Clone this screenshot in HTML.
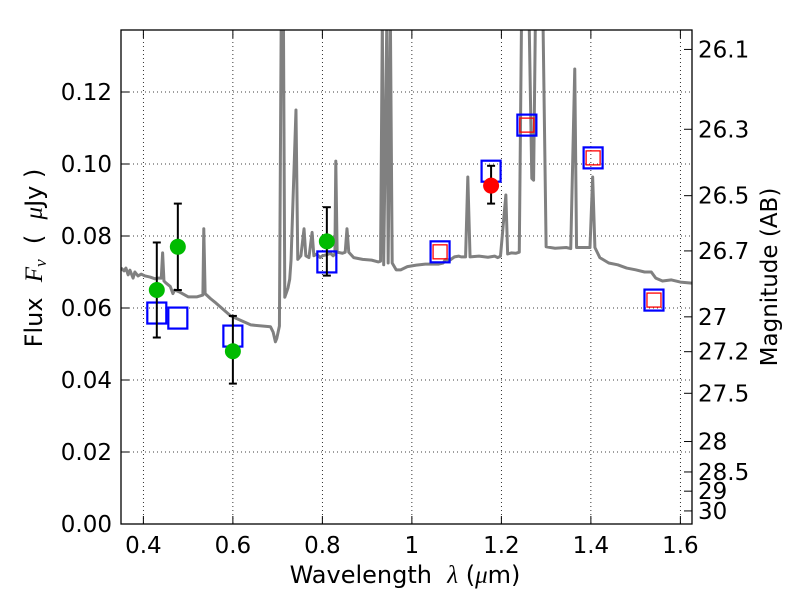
<!DOCTYPE html>
<html><head><meta charset="utf-8"><style>
body{margin:0;background:#fff}
svg{display:block;font-family:"DejaVu Sans","Liberation Sans",sans-serif}
</style></head><body>
<svg id="chart" width="800" height="600">
<defs><clipPath id="clip"><rect x="121" y="30" width="571" height="494"/></clipPath></defs>
<g id="grid"></g>
<g id="spec" clip-path="url(#clip)"></g>
<g id="marks"></g>
<rect x="121" y="30" width="571" height="494" fill="none" stroke="#000" stroke-width="1.3"/>
<g id="axes"></g>
<text x="405" y="583" font-size="24" text-anchor="middle">Wavelength&#160;&#160;<tspan font-style="italic" font-family="Liberation Serif" font-size="25">λ</tspan>&#160;(<tspan font-style="italic" font-family="Liberation Serif" font-size="25">μ</tspan>m)</text>
<text transform="translate(42,258) rotate(-90)" font-size="24" text-anchor="middle">Flux&#160;&#160;<tspan font-style="italic" font-family="Liberation Serif" font-size="25">F</tspan><tspan font-style="italic" font-family="Liberation Serif" font-size="17" dy="4">ν</tspan><tspan dy="-4">&#160;&#160;(&#160;&#160;</tspan><tspan font-style="italic" font-family="Liberation Serif" font-size="25">μ</tspan>Jy&#160;)</text>
<text transform="translate(777,277) rotate(-90)" font-size="23" text-anchor="middle">Magnitude (AB)</text>
</svg>
<script>
const xTicks=[0.4,0.6,0.8,1.0,1.2,1.4,1.6];
const xTickLabels=["0.4","0.6","0.8","1","1.2","1.4","1.6"];
const yTicks=[0,0.02,0.04,0.06,0.08,0.10,0.12];
const yTickLabels=["0.00","0.02","0.04","0.06","0.08","0.10","0.12"];
const magTicks=[26.1,26.3,26.5,26.7,27,27.2,27.5,28,28.5,29,30];
const specX=[
0.350,0.357,0.361,0.366,0.370,0.377,0.381,0.388,0.395,0.404,
0.415,0.426,0.432,0.440,0.443,0.446,0.450,0.460,0.466,0.470,
0.480,0.500,0.520,0.533,0.535,0.538,0.550,0.562,0.595,0.640,
0.684,0.690,0.695,0.698,0.704,0.708,0.713,0.716,0.720,0.723,
0.727,0.730,0.741,0.745,0.752,0.759,0.763,0.770,0.777,0.781,
0.787,0.795,0.800,0.810,0.818,0.824,0.828,0.830,0.833,0.845,
0.851,0.855,0.859,0.870,0.890,0.910,0.925,0.930,0.934,0.937,
0.944,0.947,0.952,0.956,0.965,0.975,0.990,1.010,1.030,1.060,
1.070,1.075,1.085,1.095,1.105,1.110,1.120,1.125,1.130,1.150,
1.170,1.185,1.192,1.198,1.210,1.214,1.222,1.232,1.240,1.245,
1.262,1.268,1.272,1.276,1.293,1.300,1.320,1.345,1.355,1.364,
1.368,1.398,1.404,1.409,1.420,1.440,1.460,1.480,1.500,1.520,
1.535,1.545,1.560,1.580,1.600,1.625];
const specY=[
0.0711,0.0703,0.0711,0.0692,0.0705,0.0683,0.0700,0.0689,0.0694,0.0689,
0.0686,0.0681,0.0683,0.0683,0.0753,0.0675,0.0670,0.0660,0.0640,0.0650,
0.0645,0.0631,0.0631,0.0636,0.0820,0.0640,0.0626,0.0614,0.0578,0.0553,
0.0548,0.0533,0.0506,0.0515,0.0550,0.1400,0.1400,0.0630,0.0644,0.0655,
0.0680,0.0733,0.1150,0.0735,0.0745,0.0820,0.0745,0.0740,0.0810,0.0745,
0.0750,0.0740,0.0745,0.0748,0.0752,0.0745,0.0750,0.1008,0.0755,0.0752,
0.0755,0.0820,0.0755,0.0740,0.0735,0.0733,0.0728,0.0730,0.1400,0.0720,
0.1400,0.0725,0.1400,0.0725,0.0706,0.0706,0.0715,0.0719,0.0722,0.0722,
0.0725,0.0735,0.0733,0.0742,0.0744,0.0742,0.0742,0.0964,0.0742,0.0744,
0.0741,0.0744,0.0740,0.0744,0.0914,0.0750,0.0753,0.0752,0.0755,0.1400,
0.1400,0.0960,0.0955,0.1400,0.1400,0.0770,0.0766,0.0768,0.0765,0.1264,
0.0768,0.0768,0.0964,0.0768,0.0740,0.0725,0.0720,0.0711,0.0706,0.0700,
0.0700,0.0683,0.0675,0.0678,0.0672,0.0669];
const bandX=[0.430,0.477,0.600,0.810,1.063,1.177,1.257,1.405,1.541];
const bandY=[0.0586,0.0572,0.0522,0.0728,0.0756,0.098,0.1108,0.1017,0.0622];
const modelX=[1.063,1.257,1.405,1.541];
const modelY=[0.0756,0.1108,0.1017,0.0622];
const obsX=[0.430,0.477,0.600,0.810];
const obsY=[0.065,0.077,0.048,0.0785];
const obsLo=[0.0518,0.065,0.039,0.069];
const obsHi=[0.0782,0.089,0.0578,0.088];
const redX=[1.177];
const redY=[0.094];
const redLo=[0.089];
const redHi=[0.0995];

const NS="http://www.w3.org/2000/svg";
const X=v=>121+(v-0.35)*447.5;
const Y=v=>524-v*3600;
const M=m=>Y(Math.pow(10,(23.9-m)/2.5));
function mk(tag,attrs,parent){const e=document.createElementNS(NS,tag);for(const k in attrs)e.setAttribute(k,attrs[k]);document.getElementById(parent).appendChild(e);return e;}

xTicks.forEach((t,i)=>{
  const g=mk('line',{x1:X(t),x2:X(t),y1:30,y2:524,stroke:'#000','stroke-width':0.8,'stroke-dasharray':'1,3'},'grid');
  
  
  mk('line',{x1:X(t),x2:X(t),y1:524,y2:516,stroke:'#000'},'axes');
  mk('line',{x1:X(t),x2:X(t),y1:30,y2:38,stroke:'#000'},'axes');
  const l=mk('text',{x:X(t),y:553,'font-size':23,'text-anchor':'middle'},'axes');
  l.textContent=xTickLabels[i];
  
  
});
yTicks.forEach((t,i)=>{
  const g=mk('line',{x1:121,x2:692,y1:Y(t),y2:Y(t),stroke:'#000','stroke-width':0.8,'stroke-dasharray':'1,3'},'grid');
  
  
  mk('line',{x1:121,x2:129,y1:Y(t),y2:Y(t),stroke:'#000'},'axes');
  const l=mk('text',{x:112,y:Y(t)+8,'font-size':23,'text-anchor':'end'},'axes');
  l.textContent=yTickLabels[i];
  
  
});
magTicks.forEach(m=>{
  mk('line',{x1:692,x2:684,y1:M(m),y2:M(m),stroke:'#000'},'axes');
  const l=mk('text',{x:698,y:M(m)+8,'font-size':23},'axes');
  l.textContent=String(m);
  
  
});
const n=Math.min(specX.length,specY.length);
const pts=[];for(let i=0;i<n;i++)pts.push(X(specX[i])+','+Y(specY[i]));
const sp=mk('polyline',{points:pts.join(' '),fill:'none',stroke:'#808080','stroke-width':3,'stroke-linejoin':'round'},'spec');


function errbar(x,lo,hi){
  const g=mk('g',{stroke:'#000','stroke-width':2},'marks');
  
  
  [[X(x),Y(lo),X(x),Y(hi)],[X(x)-4,Y(lo),X(x)+4,Y(lo)],[X(x)-4,Y(hi),X(x)+4,Y(hi)]].forEach(a=>{
    const l=document.createElementNS(NS,'line');l.setAttribute('x1',a[0]);l.setAttribute('y1',a[1]);l.setAttribute('x2',a[2]);l.setAttribute('y2',a[3]);g.appendChild(l);});
}
bandX.forEach((v,i)=>{
  const r=mk('rect',{x:X(v)-9.5,y:Y(bandY[i])-10.5,width:19,height:21,fill:'none',stroke:'#0000ff','stroke-width':2.2},'marks');
  
  
});
modelX.forEach((v,i)=>{
  const r=mk('rect',{x:X(v)-7,y:Y(modelY[i])-7,width:14,height:14,fill:'none',stroke:'#ff0000','stroke-width':1.3},'marks');
  
  
});
obsX.forEach((v,i)=>{
  errbar(v,obsLo[i],obsHi[i]);
  const c=mk('circle',{cx:X(v),cy:Y(obsY[i]),r:8,fill:'#00bb00'},'marks');
  
  
});
redX.forEach((v,i)=>{
  errbar(v,redLo[i],redHi[i]);
  const c=mk('circle',{cx:X(v),cy:Y(redY[i]),r:8,fill:'#ff0000'},'marks');
  
  
});
</script>
</body></html>
